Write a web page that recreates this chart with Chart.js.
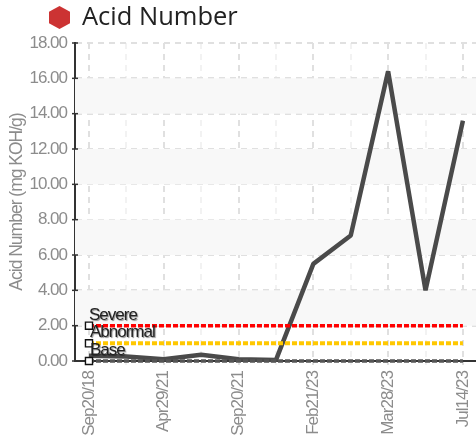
<!DOCTYPE html>
<html>
<head>
<meta charset="utf-8">
<script src="https://cdn.jsdelivr.net/npm/chart.js@4"></script>
<style>
  html, body { margin: 0; padding: 0; background: #fff; }
  #wrap { position: relative; width: 476px; height: 443px; overflow: hidden; filter: blur(0.4px); }
  #chart { position: absolute; left: 0; top: 0; }
  #hex { position: absolute; left: 49px; top: 6px; width: 21px; height: 23px; background: #cc3333;
         clip-path: polygon(50% 0, 100% 25%, 100% 75%, 50% 100%, 0 75%, 0 25%); }
  #title { position: absolute; left: 82px; top: -2px; font: 25.5px "Open Sans", sans-serif; color: #222; white-space: nowrap; }
</style>
</head>
<body>
<div id="wrap">
  <div id="hex"></div>
  <div id="title">Acid Number</div>
  <canvas id="chart" width="476" height="443"></canvas>
</div>
<script>
var sampleDates = ['Sep20/18', 'Oct12/20', 'Apr29/21', 'Jul02/21', 'Sep20/21', 'Feb10/22', 'Feb21/23', 'Mar01/23', 'Mar28/23', 'May20/23', 'Jul14/23'];
var acidValues = [0.3, 0.25, 0.1, 0.35, 0.1, 0.05, 5.5, 7.1, 16.4, 4.0, 13.6];
var severeLevel = 2;
var abnormalLevel = 1;
var baseLevel = 0;
var yTicks = [0, 2, 4, 6, 8, 10, 12, 14, 16, 18];
var bandRanges = [[2, 4], [6, 8], [10, 12], [14, 16]];
var labelFont = '"Liberation Sans", sans-serif';

function xy(values) {
  return values.map(function (v, i) { return { x: i, y: v }; });
}
function flat(v) {
  return sampleDates.map(function () { return v; });
}
function firstOnly(size) {
  return function (ctx) { return ctx.dataIndex === 0 ? size : 0; };
}
function limitSet(label, level, color, width) {
  return {
    label: label,
    order: 1,
    clip: false,
    data: xy(flat(level)),
    borderColor: color,
    borderWidth: width,
    borderDash: [5, 2],
    pointStyle: 'rect',
    pointRadius: firstOnly(5),
    pointBackgroundColor: '#fff',
    pointBorderColor: '#111',
    pointBorderWidth: 1.4
  };
}

// bands, axis tick marks and the limit captions are drawn through the scales
var extras = {
  id: 'extras',
  beforeDraw: function (chart) {
    // the original uses a condensed face, tighten the text instead
    chart.ctx.letterSpacing = '-1px';
  },
  beforeDatasetsDraw: function (chart) {
    var c = chart.ctx, xs = chart.scales.x, ys = chart.scales.y;
    c.save();
    c.fillStyle = '#f8f8f8';
    bandRanges.forEach(function (b) {
      c.fillRect(xs.left, ys.getPixelForValue(b[1]), xs.right - xs.left, ys.getPixelForValue(b[0]) - ys.getPixelForValue(b[1]));
    });
    c.restore();
  },
  afterDraw: function (chart) {
    var c = chart.ctx, xs = chart.scales.x, ys = chart.scales.y;
    c.save();
    c.strokeStyle = '#333';
    c.lineWidth = 1.5;
    yTicks.forEach(function (t) {
      var py = ys.getPixelForValue(t);
      c.beginPath();
      c.moveTo(xs.left - 3, py);
      c.lineTo(xs.left + 3, py);
      c.stroke();
    });
    c.font = '17px ' + labelFont;
    c.fillStyle = '#222';
    c.shadowColor = 'rgba(0,0,0,0.45)';
    c.shadowOffsetX = 1;
    c.shadowOffsetY = 1;
    c.shadowBlur = 1;
    var px = xs.getPixelForValue(0);
    c.fillText('Severe', px, ys.getPixelForValue(severeLevel) - 6);
    c.fillText('Abnormal', px + 1, ys.getPixelForValue(abnormalLevel) - 6);
    c.fillText('Base', px + 1, ys.getPixelForValue(baseLevel) - 6);
    c.restore();
  }
};

new Chart(document.getElementById('chart'), {
  type: 'line',
  data: {
    datasets: [
      {
        label: 'Acid Number',
        order: 2,
        clip: false,
        data: xy(acidValues),
        borderColor: '#4a4a4a',
        borderWidth: 4.5,
        borderJoinStyle: 'bevel',
        pointRadius: 0,
        tension: 0
      },
      limitSet('Severe', severeLevel, '#ff0000', 3.5),
      limitSet('Abnormal', abnormalLevel, '#ffc800', 4),
      limitSet('Base', baseLevel, '#555555', 3.5)
    ]
  },
  plugins: [extras],
  options: {
    responsive: false,
    animation: false,
    layout: { autoPadding: false, padding: { left: 0, right: 0, top: 43, bottom: 0 } },
    plugins: { legend: { display: false }, tooltip: { enabled: false } },
    scales: {
      x: {
        type: 'linear',
        min: -0.374,
        max: 10.35,
        afterBuildTicks: function (axis) {
          axis.ticks = sampleDates.map(function (d, i) { return { value: i }; });
        },
        afterFit: function (axis) { axis.height = 82; axis.paddingRight = 0; axis.paddingLeft = 0; },
        ticks: {
          autoSkip: false,
          maxRotation: 90,
          minRotation: 90,
          color: '#8c8c8c',
          padding: 6,
          font: { family: labelFont, size: 17 },
          callback: function (v) { return v % 2 === 0 ? sampleDates[v] : ''; }
        },
        border: { color: '#333', width: 2, dash: [6, 5] },
        grid: {
          drawTicks: true,
          tickLength: 4,
          color: function (ctx) { return ctx.index % 2 === 0 ? '#e0e0e0' : '#f2f2f2'; },
          lineWidth: 2
        }
      },
      y: {
        min: 0,
        max: 18,
        afterBuildTicks: function (axis) {
          axis.ticks = yTicks.map(function (t) { return { value: t }; });
        },
        afterFit: function (axis) { axis.width = 75; axis.paddingTop = 0; axis.paddingBottom = 0; },
        title: {
          display: true,
          text: 'Acid Number (mg KOH/g)',
          color: '#8c8c8c',
          padding: { top: 7, bottom: 0 },
          font: { family: labelFont, size: 17.5 }
        },
        ticks: {
          color: '#8c8c8c',
          padding: 8,
          font: { family: labelFont, size: 17 },
          callback: function (v) { return v.toFixed(2); }
        },
        border: { color: '#333', width: 2, dash: [6, 5] },
        grid: {
          drawTicks: false,
          color: '#e0e0e0',
          lineWidth: 2
        }
      }
    }
  }
});
</script>
</body>
</html>
